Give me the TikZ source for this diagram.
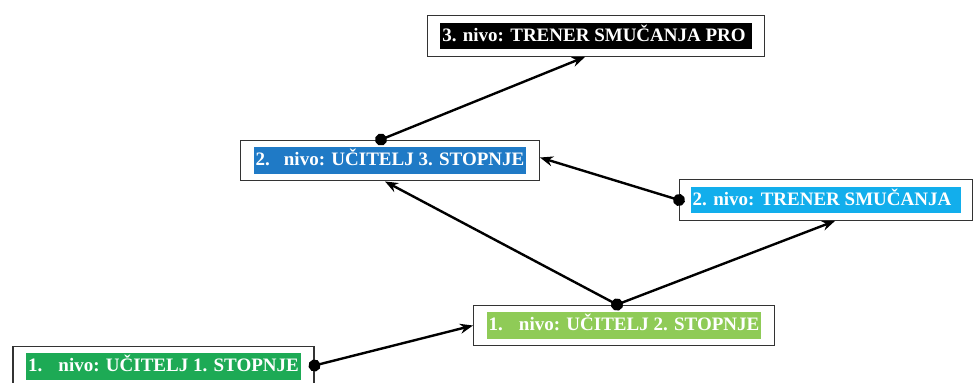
\documentclass[tikz,border=0pt]{standalone}
\usepackage{fontspec}
\setmainfont{Liberation Serif}
\usetikzlibrary{arrows.meta}

\definecolor{crna}{HTML}{000000}
\definecolor{modra}{HTML}{1F7AC6}
\definecolor{svetlomodra}{HTML}{12AEEC}
\definecolor{svetlozelena}{HTML}{8FCB57}
\definecolor{zelena}{HTML}{1DAA55}

\setlength{\fboxsep}{2pt}
\newcommand{\oznaka}[2]{\colorbox{#1}{\strut #2}}

\begin{document}
\begin{tikzpicture}[x=1pt,y=-1pt,
    every node/.style={draw=black!80,line width=1.4pt,fill=white,inner xsep=13pt,inner ysep=7pt,
        font=\fontsize{19}{20}\selectfont\bfseries,text=white},
    pot/.style={line width=2.4pt,shorten <=-6pt,{Circle[length=12pt]}-{Stealth[length=13pt,width=10pt]}}]
    \useasboundingbox (0,0) rectangle (975,383);
    % nodes
    \node (a) at (596,36) {\oznaka{crna}{3. nivo: TRENER SMUČANJA PRO\hspace{4pt}}};
    \node (b) at (390,160.5) {\oznaka{modra}{2.\hspace{14pt}nivo: UČITELJ 3. STOPNJE}};
    \node[inner xsep=11pt] (c) at (826,200) {\oznaka{svetlomodra}{2. nivo: TRENER SMUČANJA\hspace{8pt}}};
    \node (d) at (624,325.5) {\oznaka{svetlozelena}{1.\hspace{16pt}nivo: UČITELJ 2. STOPNJE}};
    \node (e) at (163.5,366.5) {\oznaka{zelena}{1.\hspace{16pt}nivo: UČITELJ 1. STOPNJE}};

    % edges
    \draw[pot] ([xshift=-9pt]b.north) -- ([xshift=-11pt]a.south);
    \draw[pot] (c.west) -- ([yshift=3pt]b.east);
    \draw[pot] ([xshift=-7pt]d.north) -- ([xshift=-5pt]b.south);
    \draw[pot] ([xshift=-7pt]d.north) -- ([xshift=9pt]c.south);
    \draw[pot] ([yshift=1pt]e.east) -- (d.west);
\end{tikzpicture}
\end{document}
